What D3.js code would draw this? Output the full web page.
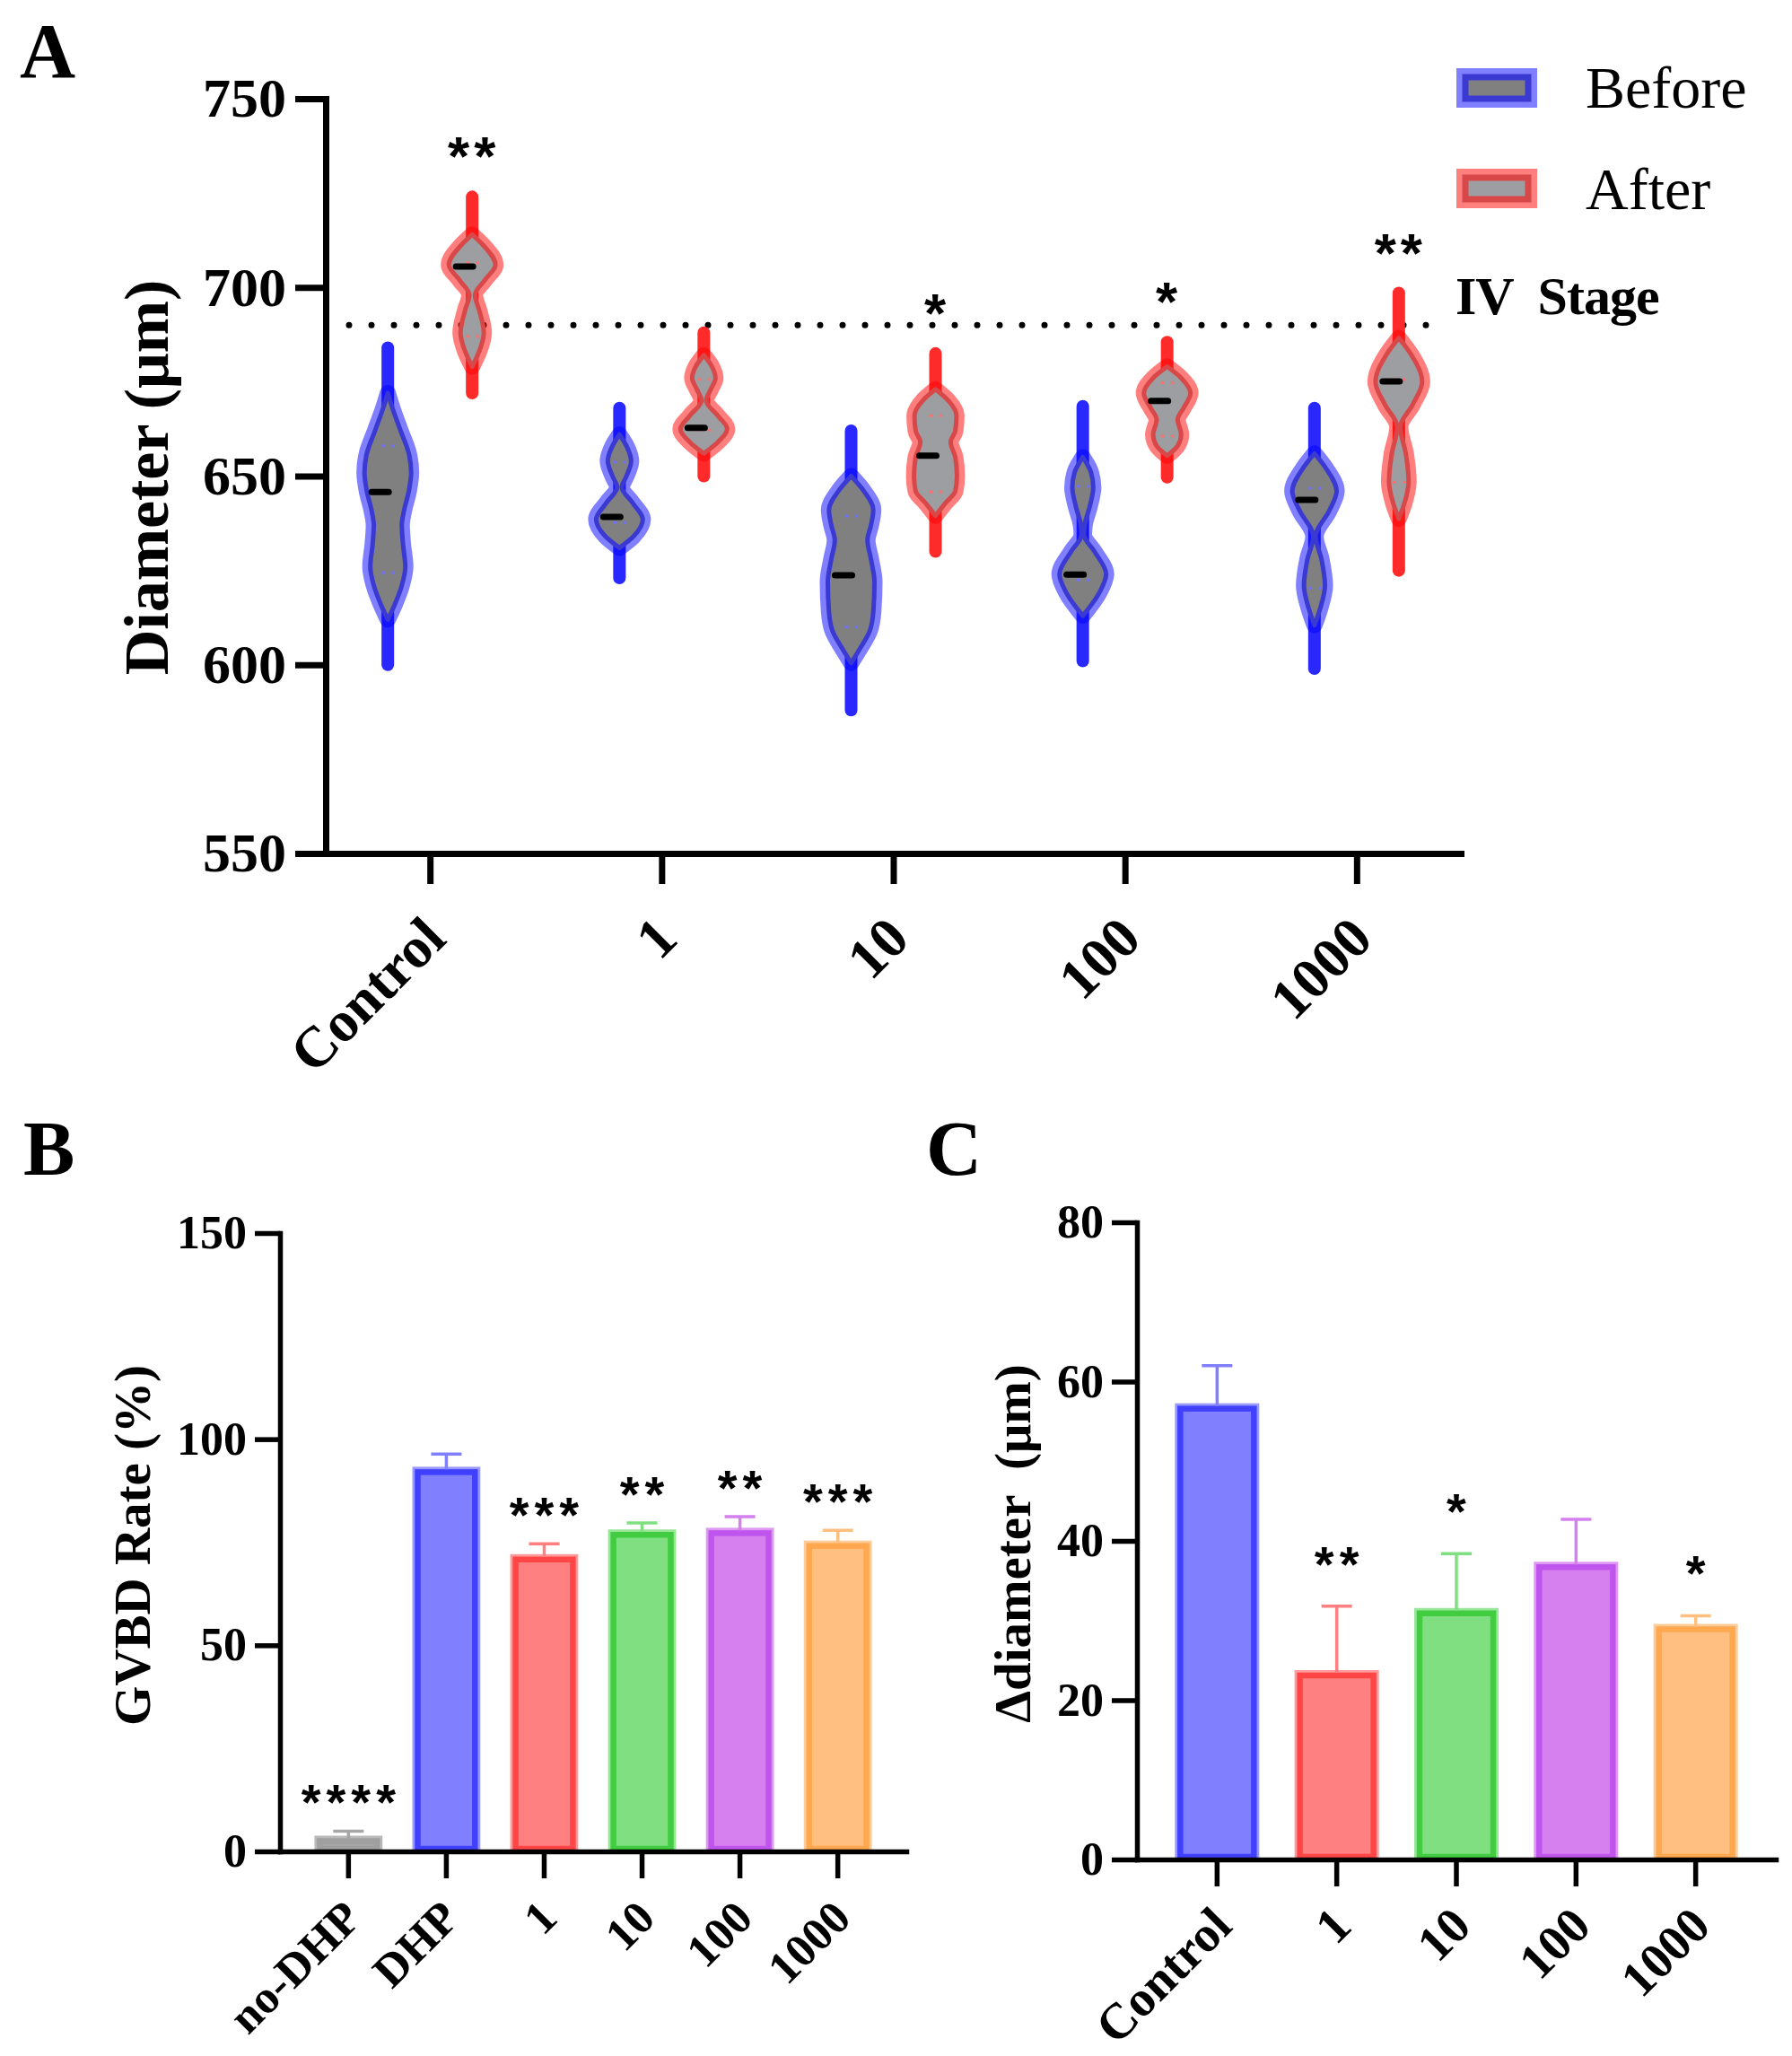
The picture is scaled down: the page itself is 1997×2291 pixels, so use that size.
<!DOCTYPE html>
<html>
<head>
<meta charset="utf-8">
<script src="https://cdn.jsdelivr.net/npm/d3@7"></script>
<style>
  body { margin: 0; background: #fff; }
  text { font-family: "Liberation Serif", "Times New Roman", serif; white-space: pre; }
</style>
</head>
<body>
<div id="chart"></div>
<script>
// ---------- data: panel A (violins, diameter in µm) ----------
const groupsA = ["Control", "1", "10", "100", "1000"];
const phases = ["Before", "After"];

// violin outlines: [value, relative half-width]
const ctrlBefore = [[684,0],[672,0],[668,0.2],[662,0.55],[656,0.9],[651,1.0],[646,0.9],[641,0.7],[637,0.6],[632,0.65],[626,0.75],[621,0.6],[616,0.3],[612,0],[600,0]];
const ctrlAfter  = [[724,0],[714,0],[711,0.5],[706,1.0],[702,0.55],[698,0.12],[694,0.3],[688,0.5],[683,0.3],[679,0],[672,0]];
const d1Before   = [[668,0],[661,0],[658,0.3],[654,0.5],[650,0.3],[647,0.1],[643,0.55],[638.5,1.0],[634,0.6],[631,0],[623,0]];
const d1After    = [[688,0],[682,0],[679,0.35],[676,0.5],[673,0.3],[670,0.1],[666,0.6],[662.5,1.0],[659,0.6],[656,0],[650,0]];
const d10Before  = [[662,0],[650,0],[646,0.55],[641,0.95],[637,0.85],[633,0.7],[628,0.85],[622,1.0],[614,0.95],[609,0.8],[604,0.35],[600.5,0],[588,0]];
const d10After   = [[682.5,0],[673,0],[670,0.55],[666,0.9],[662,0.85],[659,0.65],[655,0.85],[650,0.92],[646,0.85],[643,0.45],[639.5,0],[630,0]];
const d100Before = [[668.5,0],[655,0],[651,0.35],[647,0.45],[642,0.3],[637,0.08],[634.5,0.05],[630,0.5],[624,1.0],[619,0.7],[613,0],[601,0]];
const d100After  = [[685.5,0],[679,0],[676,0.6],[672,1.0],[668,0.7],[665,0.45],[661,0.6],[658,0.45],[655.4,0],[649.7,0]];
const d1000Before= [[668,0],[656,0],[652,0.5],[646,0.95],[641,0.65],[634,0.05],[628,0.3],[621,0.45],[615,0.25],[610.5,0],[599,0]];
const d1000After = [[698.5,0],[686.6,0],[682,0.55],[675,1.0],[669,0.6],[663,0.06],[656,0.3],[648.5,0.42],[643,0.25],[638.7,0],[625,0]];

// order: Control B/A, 1 B/A, 10 B/A, 100 B/A, 1000 B/A
const violinShapes = [ctrlBefore, ctrlAfter, d1Before, d1After, d10Before, d10After, d100Before, d100After, d1000Before, d1000After];
const medians   = [645.8, 705.5, 639.2, 662.8, 623.7, 655.4, 623.9, 669.9, 643.7, 675.1];
const upperQ    = [658, 706.5, 653.7, 675.6, 639.4, 666, 647.3, 674.7, 646.8, 675.6];
const lowerQ    = [624.4, 687, 637.7, 662.2, 610, 645.8, 622.5, 660.6, 620.3, 648.4];
const starsA    = ["", "**", "", "", "", "*", "", "*", "", "**"];
const stageLine = 690;
const ticksA = [550, 600, 650, 700, 750];

// ---------- data: panel B (GVBD rate %) ----------
const catsB = ["no-DHP", "DHP", "1", "10", "100", "1000"];
const gvbdMean = [2.5, 92, 70.8, 76.8, 77.2, 74.1];
const gvbdSd   = [2.4, 4.4, 3.8, 2.9, 4.0, 3.8];
const starsB   = ["****", "", "***", "**", "**", "***"];
const ticksB = [0, 50, 100, 150];

// ---------- data: panel C (Δdiameter µm) ----------
const catsC = ["Control", "1", "10", "100", "1000"];
const deltaMean = [56.6, 23.1, 30.9, 36.7, 28.9];
const deltaSd   = [5.4, 8.7, 7.5, 6.0, 1.7];
const starsC    = ["", "**", "*", "", "*"];
const ticksC = [0, 20, 40, 60, 80];

// ---------- styles ----------
const phaseStyle = {
  Before: { fill: "#808080", band: "rgba(0,0,255,0.5)", line: "#3a3ad2", tail: "#2828ff", dot: "#7070ff", dx: -47 },
  After:  { fill: "#9c9ea2", band: "rgba(255,0,0,0.5)", line: "#d84848", tail: "#ff2a2a", dot: "#ff7070", dx: 47 }
};
const barFill   = ["#a6a6a6", "#8080ff", "#ff8080", "#80df80", "#d580ee", "#ffbf80"];
const barStroke = ["#a0a0a0", "#4040ff", "#ff4545", "#42cc42", "#c055ee", "#ffa850"];
const barFillC   = barFill.slice(1);
const barStrokeC = barStroke.slice(1);

const svg = d3.select("#chart").append("svg")
  .attr("width", 1997).attr("height", 2291);

function styleAxis(g, width, fontSize) {
  g.selectAll("path, line").attr("stroke", "#000").attr("stroke-width", width);
  g.select(".domain").attr("stroke-linecap", "square");
  g.selectAll("text").attr("fill", "#000")
    .style("font-family", '"Liberation Serif", serif')
    .style("font-weight", "bold").style("font-size", fontSize + "px");
}

// ================= Panel A =================
const yA = d3.scaleLinear().domain([550, 750]).range([951, 110]);
const xA = d3.scalePoint().domain(groupsA).range([363, 1628]).padding(0.45);
const wA = d3.scaleLinear().domain([0, 1]).range([0, 26]);

svg.append("text").attr("x", 22).attr("y", 86)
  .style("font-size", "86px").style("font-weight", "bold").text("A");

// stage threshold line
svg.append("line")
  .attr("x1", 389).attr("x2", 1603)
  .attr("y1", yA(stageLine)).attr("y2", yA(stageLine))
  .attr("stroke", "#000").attr("stroke-width", 7)
  .attr("stroke-linecap", "round").attr("stroke-dasharray", "0,25");

const violins = violinShapes.map((shape, i) => ({
  group: groupsA[Math.floor(i / 2)],
  phase: phases[i % 2],
  shape: shape,
  median: medians[i], q3: upperQ[i], q1: lowerQ[i], star: starsA[i]
}));

const gV = svg.append("g");
violins.forEach(v => {
  const st = phaseStyle[v.phase];
  const cx = xA(v.group) + st.dx;
  const vMax = v.shape[0][0], vMin = v.shape[v.shape.length - 1][0];
  // body is the part between the zero-width tails
  let a = 0; while (v.shape[a + 1][1] === 0) a++;
  let b = v.shape.length - 1; while (v.shape[b - 1][1] === 0) b--;
  const body = v.shape.slice(a, b + 1);

  const area = d3.area()
    .y(d => yA(d[0]))
    .x0(d => cx - wA(d[1]))
    .x1(d => cx + wA(d[1]))
    .curve(d3.curveMonotoneY);

  gV.append("line")
    .attr("x1", cx).attr("x2", cx).attr("y1", yA(vMax)).attr("y2", yA(vMin))
    .attr("stroke", st.tail).attr("stroke-width", 14).attr("stroke-linecap", "round");
  gV.append("path").attr("d", area(body))
    .attr("fill", "none").attr("stroke", st.band).attr("stroke-width", 18).attr("stroke-linejoin", "round");
  gV.append("path").attr("d", area(body))
    .attr("fill", st.fill).attr("stroke", st.line).attr("stroke-width", 5).attr("stroke-linejoin", "round");

  [v.q1, v.q3].forEach(q => {
    [-5, 6].forEach(o => {
      gV.append("circle").attr("cx", cx + o).attr("cy", yA(q)).attr("r", 1.8).attr("fill", st.dot);
    });
  });
  gV.append("line")
    .attr("x1", cx - 18).attr("x2", cx + 1)
    .attr("y1", yA(v.median)).attr("y2", yA(v.median))
    .attr("stroke", "#000").attr("stroke-width", 7).attr("stroke-linecap", "round");

  if (v.star) {
    gV.append("text").attr("x", cx + 2).attr("y", yA(vMax) - 24)
      .attr("text-anchor", "middle")
      .style("font-family", '"Liberation Sans", sans-serif')
      .style("font-weight", "bold").style("font-size", "62px").style("letter-spacing", "5px")
      .text(v.star);
  }
});

const axA_y = svg.append("g").attr("transform", "translate(363,0)")
  .call(d3.axisLeft(yA).tickValues(ticksA).tickSize(34).tickSizeOuter(0).tickPadding(10));
styleAxis(axA_y, 7, 62);

const axA_x = svg.append("g").attr("transform", "translate(0,951)")
  .call(d3.axisBottom(xA).tickSize(34).tickSizeOuter(0));
styleAxis(axA_x, 7, 64);
axA_x.selectAll("text")
  .attr("x", 0).attr("y", 0).attr("dy", "0.35em").attr("text-anchor", "end")
  .attr("transform", "translate(4,82) rotate(-45)");

svg.append("text")
  .attr("transform", "translate(187,532) rotate(-90)")
  .attr("text-anchor", "middle")
  .style("font-size", "70px").style("font-weight", "bold")
  .text("Diameter (μm)");

// legend
const legend = svg.append("g");
phases.forEach((p, i) => {
  const st = phaseStyle[p];
  const y0 = [86, 198][i];
  legend.append("rect").attr("x", 1633).attr("y", y0).attr("width", 70).attr("height", 24)
    .attr("fill", "none").attr("stroke", st.band).attr("stroke-width", 20);
  legend.append("rect").attr("x", 1633).attr("y", y0).attr("width", 70).attr("height", 24)
    .attr("fill", st.fill).attr("stroke", st.line).attr("stroke-width", 7);
  legend.append("text").attr("x", 1767).attr("y", [120, 233][i])
    .style("font-size", "66px").text(p);
});
svg.append("text").attr("x", 1622).attr("y", 350)
  .style("font-size", "60px").style("font-weight", "bold").style("letter-spacing", "-1px")
  .text("IV  Stage");

// ================= Panel B =================
const yB = d3.scaleLinear().domain([0, 150]).range([2063, 1374]);
const xB = d3.scaleBand().domain(catsB).range([312, 1010]).paddingInner(0.36).paddingOuter(0.38);

svg.append("text").attr("x", 26).attr("y", 1309)
  .style("font-size", "86px").style("font-weight", "bold").text("B");

function drawBars(g, x, y, cats, means, sds, fills, strokes, stars, starGap) {
  cats.forEach((c, i) => {
    const x0 = x(c) + 3, bw = x.bandwidth() - 6;
    const top = y(means[i]), base = y(0) - 3;
    g.append("rect").attr("x", x0).attr("y", top).attr("width", bw).attr("height", base - top)
      .attr("fill", "none").attr("stroke", fills[i]).attr("stroke-width", 12).attr("opacity", 0.8);
    g.append("rect").attr("x", x0).attr("y", top).attr("width", bw).attr("height", base - top)
      .attr("fill", fills[i]).attr("stroke", strokes[i]).attr("stroke-width", 6.5);
    const cx = x(c) + x.bandwidth() / 2;
    const errTop = y(means[i] + sds[i]);
    g.append("line").attr("x1", cx).attr("x2", cx).attr("y1", top - 3).attr("y2", errTop)
      .attr("stroke", fills[i]).attr("stroke-width", 3.5);
    g.append("line").attr("x1", cx - 17).attr("x2", cx + 17).attr("y1", errTop).attr("y2", errTop)
      .attr("stroke", fills[i]).attr("stroke-width", 3.5);
    if (stars[i]) {
      g.append("text").attr("x", cx + 3).attr("y", errTop - starGap)
        .attr("text-anchor", "middle")
        .style("font-family", '"Liberation Sans", sans-serif')
        .style("font-weight", "bold").style("font-size", "56px").style("letter-spacing", "6px")
        .text(stars[i]);
    }
  });
}

drawBars(svg.append("g"), xB, yB, catsB, gvbdMean, gvbdSd, barFill, barStroke, starsB, 13);

const axB_y = svg.append("g").attr("transform", "translate(312,0)")
  .call(d3.axisLeft(yB).tickValues(ticksB).tickSize(28).tickSizeOuter(0).tickPadding(9));
styleAxis(axB_y, 5.5, 52);
const axB_x = svg.append("g").attr("transform", "translate(0,2063)")
  .call(d3.axisBottom(xB).tickSize(30).tickSizeOuter(0));
styleAxis(axB_x, 5.5, 52);
axB_x.selectAll("text")
  .attr("x", 0).attr("y", 0).attr("dy", "0.35em").attr("text-anchor", "end")
  .attr("transform", "translate(4,64) rotate(-45)");

svg.append("text")
  .attr("transform", "translate(167,1722) rotate(-90)")
  .attr("text-anchor", "middle")
  .style("font-size", "57px").style("font-weight", "bold")
  .text("GVBD Rate (%)");

// ================= Panel C =================
const yC = d3.scaleLinear().domain([0, 80]).range([2072, 1362]);
const xC = d3.scaleBand().domain(catsC).range([1267, 1979]).paddingInner(0.34).paddingOuter(0.34);

svg.append("text").attr("x", 1032).attr("y", 1309)
  .style("font-size", "86px").style("font-weight", "bold").text("C");

drawBars(svg.append("g"), xC, yC, catsC, deltaMean, deltaSd, barFillC, barStrokeC, starsC, 28);

const axC_y = svg.append("g").attr("transform", "translate(1267,0)")
  .call(d3.axisLeft(yC).tickValues(ticksC).tickSize(28).tickSizeOuter(0).tickPadding(9));
styleAxis(axC_y, 5.5, 52);
const axC_x = svg.append("g").attr("transform", "translate(0,2072)")
  .call(d3.axisBottom(xC).tickSize(30).tickSizeOuter(0));
styleAxis(axC_x, 5.5, 56);
axC_x.selectAll("text")
  .attr("x", 0).attr("y", 0).attr("dy", "0.35em").attr("text-anchor", "end")
  .attr("transform", "translate(5,63) rotate(-45)");

svg.append("text")
  .attr("transform", "translate(1148,1720) rotate(-90)")
  .attr("text-anchor", "middle")
  .style("font-size", "57px").style("font-weight", "bold")
  .text("Δdiameter  (μm)");
</script>
</body>
</html>
